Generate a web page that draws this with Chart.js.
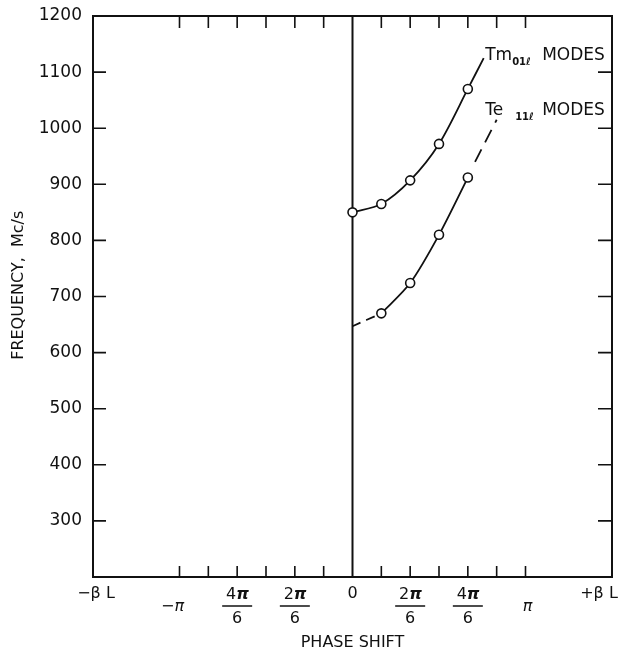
<!DOCTYPE html>
<html>
<head>
<meta charset="utf-8">
<title>Phase shift vs frequency</title>
<script src="https://cdn.jsdelivr.net/npm/chart.js@4.4.1/dist/chart.umd.min.js"></script>
<style>
    html, body { margin: 0; padding: 0; background: #fff; }
    #wrap { width: 623px; height: 655px; position: relative; }
</style>
</head>
<body>
<div id="wrap"><canvas id="chart" width="623" height="655"></canvas></div>
<script>
// phase shift is measured in steps of pi/6
const tmPhase = [0, 1, 2, 3, 4, 4.55];
const tmFreq = [850, 865, 907, 972, 1070, 1125];
const tePhase = [1, 2, 3, 4];
const teFreq = [670, 724, 810, 912];
const teStartPhase = [0, 1];
const teStartFreq = [647, 670];
const teEndPhase = [4.25, 5];
const teEndFreq = [940, 1015];

const yTicks = [300, 400, 500, 600, 700, 800, 900, 1000, 1100, 1200];
const xTicks = [-6, -5, -4, -3, -2, -1, 1, 2, 3, 4, 5, 6];
const xLabels = [
    { v: -9, top: '\u2212\u03b2 L', kind: 'edge' },
    { v: -6, top: '\u2212\u03c0', kind: 'low' },
    { v: -4, top: '4', bottom: '6', kind: 'frac' },
    { v: -2, top: '2', bottom: '6', kind: 'frac' },
    { v: 0, top: '0', kind: 'edge' },
    { v: 2, top: '2', bottom: '6', kind: 'frac' },
    { v: 4, top: '4', bottom: '6', kind: 'frac' },
    { v: 6, top: '\u03c0', kind: 'low' },
    { v: 9, top: '+\u03b2 L', kind: 'edge' }
];

const FONT = '"DejaVu Sans", sans-serif';

function toPoints(xs, ys) {
    return xs.map((x, i) => ({ x: x, y: ys[i] }));
}

const framePlugin = {
    id: 'frame',
    beforeDatasetsDraw(chart) {
        const ctx = chart.ctx;
        const a = chart.chartArea;
        const xs = chart.scales.x;
        const ys = chart.scales.y;
        ctx.save();
        ctx.strokeStyle = '#111';
        ctx.lineWidth = 2;
        ctx.strokeRect(a.left, a.top, a.right - a.left, a.bottom - a.top);

        // zero phase line
        const x0 = xs.getPixelForValue(0);
        ctx.beginPath();
        ctx.moveTo(x0, a.top);
        ctx.lineTo(x0, a.bottom);
        ctx.stroke();

        // inward ticks
        ctx.lineWidth = 1.6;
        xTicks.forEach(v => {
            const px = xs.getPixelForValue(v);
            ctx.beginPath();
            ctx.moveTo(px, a.top);
            ctx.lineTo(px, a.top + 12);
            ctx.moveTo(px, a.bottom);
            ctx.lineTo(px, a.bottom - 11);
            ctx.stroke();
        });
        yTicks.forEach(v => {
            if (v === 1200) return;
            const py = ys.getPixelForValue(v);
            ctx.beginPath();
            ctx.moveTo(a.left, py);
            ctx.lineTo(a.left + 13, py);
            ctx.moveTo(a.right, py);
            ctx.lineTo(a.right - 14, py);
            ctx.stroke();
        });
        ctx.restore();
    },
    afterDraw(chart) {
        const ctx = chart.ctx;
        const a = chart.chartArea;
        const xs = chart.scales.x;
        const ys = chart.scales.y;
        ctx.save();
        ctx.fillStyle = '#111';
        ctx.strokeStyle = '#111';

        // y tick labels
        ctx.font = '17px ' + FONT;
        ctx.textAlign = 'right';
        ctx.textBaseline = 'middle';
        yTicks.forEach(v => {
            ctx.fillText(String(v), a.left - 11, ys.getPixelForValue(v));
        });

        // x tick labels
        ctx.textAlign = 'center';
        xLabels.forEach(l => {
            let px = xs.getPixelForValue(l.v);
            if (l.kind === 'edge') {
                ctx.font = '16px ' + FONT;
                if (l.v > 6) px -= 13;
                ctx.fillText(l.top, px + (l.v < -6 ? 3 : 0), a.bottom + 17);
            } else if (l.kind === 'low') {
                ctx.font = 'italic 16px ' + FONT;
                ctx.fillText(l.top, px + (l.v < 0 ? -7 : 2), a.bottom + 30);
            } else {
                // numerator: digit + italic pi
                ctx.font = '16px ' + FONT;
                ctx.textAlign = 'right';
                ctx.fillText(l.top, px - 1, a.bottom + 18);
                ctx.font = 'italic bold 16px ' + FONT;
                ctx.textAlign = 'left';
                ctx.fillText('\u03c0', px - 1, a.bottom + 18);
                ctx.textAlign = 'center';
                ctx.font = '16px ' + FONT;
                ctx.fillText(l.bottom, px, a.bottom + 42);
                ctx.lineWidth = 1.5;
                ctx.beginPath();
                ctx.moveTo(px - 15, a.bottom + 29);
                ctx.lineTo(px + 15, a.bottom + 29);
                ctx.stroke();
            }
        });

        // axis titles
        ctx.font = '16px ' + FONT;
        ctx.fillText('PHASE SHIFT', xs.getPixelForValue(0), a.bottom + 66);
        ctx.save();
        ctx.translate(19, ys.getPixelForValue(720));
        ctx.rotate(-Math.PI / 2);
        ctx.fillText('FREQUENCY,  Mc/s', 0, 0);
        ctx.restore();

        // mode labels
        ctx.textAlign = 'left';
        ctx.textBaseline = 'alphabetic';
        const drawMode = (main, sub, subX, x, y) => {
            ctx.font = '17px ' + FONT;
            ctx.fillText(main, x, y);
            ctx.font = 'bold 10px ' + FONT;
            ctx.fillText(sub, x + subX, y + 5);
            ctx.font = '17px ' + FONT;
            ctx.fillText('MODES', x + 57, y);
        };
        drawMode('Tm', '01\u2113', 27, xs.getPixelForValue(4.6), ys.getPixelForValue(1122));
        drawMode('Te', '11\u2113', 30, xs.getPixelForValue(4.6), ys.getPixelForValue(1024));
        ctx.restore();
    }
};

const lineStyle = {
    borderColor: '#111',
    borderWidth: 1.8,
    pointBackgroundColor: '#fff',
    pointBorderColor: '#111',
    pointBorderWidth: 1.6,
    tension: 0.3,
    showLine: true,
    fill: false
};

new Chart(document.getElementById('chart'), {
    type: 'scatter',
    data: {
        datasets: [
            Object.assign({}, lineStyle, {
                label: 'Tm01l modes',
                data: toPoints(tmPhase, tmFreq),
                pointRadius: tmPhase.map((_, i) => i < 5 ? 4.5 : 0)
            }),
            Object.assign({}, lineStyle, {
                label: 'Te11l modes',
                data: toPoints(tePhase, teFreq),
                pointRadius: 4.5
            }),
            Object.assign({}, lineStyle, {
                label: 'Te11l start',
                data: toPoints(teStartPhase, teStartFreq),
                pointRadius: 0,
                borderDash: [9, 6]
            }),
            Object.assign({}, lineStyle, {
                label: 'Te11l end',
                data: toPoints(teEndPhase, teEndFreq),
                pointRadius: 0,
                borderDash: [14, 8]
            })
        ]
    },
    options: {
        responsive: false,
        animation: false,
        layout: { padding: { left: 93, right: 11, top: 16, bottom: 78 } },
        plugins: {
            legend: { display: false },
            tooltip: { enabled: false }
        },
        scales: {
            x: { type: 'linear', min: -9, max: 9, display: false },
            y: { type: 'linear', min: 200, max: 1200, display: false }
        }
    },
    plugins: [framePlugin]
});
</script>
</body>
</html>
